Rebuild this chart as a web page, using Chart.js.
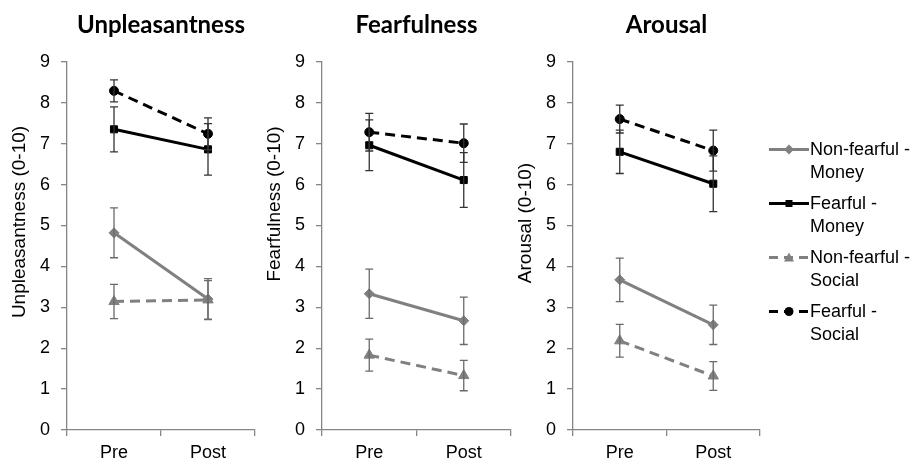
<!DOCTYPE html>
<html>
<head>
<meta charset="utf-8">
<title>Pre / Post ratings</title>
<script src="https://cdn.jsdelivr.net/npm/chart.js@4/dist/chart.umd.min.js"></script>
<style>
  body { margin: 0; background: #fff; }
  #wrap { position: relative; width: 921px; height: 460px; overflow: hidden; }
  #wrap canvas { position: absolute; top: 0; }
  #legend { position: absolute; left: 769px; top: 138px; font-family: "Liberation Sans", Arial, sans-serif; font-size: 18px; color: #000; }
  .lg-item { display: flex; align-items: flex-start; margin-bottom: 8px; }
  .lg-item svg { flex: none; width: 41px; height: 23px; }
  .lg-text { line-height: 23px; }
</style>
</head>
<body>
<div id="wrap">
  <canvas id="c1" width="265" height="460" style="left:0px"></canvas>
  <canvas id="c2" width="266" height="460" style="left:255px"></canvas>
  <canvas id="c3" width="264" height="460" style="left:506px"></canvas>
  <div id="legend"></div>
</div>
<script>
// data
var categories = ['Pre', 'Post'];
var seriesNames = ['Non-fearful - Money', 'Fearful - Money', 'Non-fearful - Social', 'Fearful - Social'];
var panelTitles = ['Unpleasantness', 'Fearfulness', 'Arousal'];
var axisTitles = ['Unpleasantness (0-10)', 'Fearfulness (0-10)', 'Arousal (0-10)'];
var yMin = 0, yMax = 9, yStep = 1;

// Unpleasantness
var unpNonFearMoney = [4.82, 3.20], unpNonFearMoneyErr = [0.61, 0.50];
var unpFearMoney = [7.35, 6.86], unpFearMoneyErr = [0.55, 0.63];
var unpNonFearSocial = [3.14, 3.18], unpNonFearSocialErr = [0.42, 0.47];
var unpFearSocial = [8.29, 7.24], unpFearSocialErr = [0.27, 0.39];

// Fearfulness
var fearNonFearMoney = [3.33, 2.67], fearNonFearMoneyErr = [0.60, 0.58];
var fearFearMoney = [6.96, 6.11], fearFearMoneyErr = [0.62, 0.67];
var fearNonFearSocial = [1.83, 1.33], fearNonFearSocialErr = [0.39, 0.37];
var fearFearSocial = [7.28, 7.01], fearFearSocialErr = [0.46, 0.47];

// Arousal
var arNonFearMoney = [3.67, 2.57], arNonFearMoneyErr = [0.53, 0.48];
var arFearMoney = [6.80, 6.02], arFearMoneyErr = [0.53, 0.68];
var arNonFearSocial = [2.18, 1.32], arNonFearSocialErr = [0.40, 0.35];
var arFearSocial = [7.60, 6.83], arFearSocialErr = [0.34, 0.50];

// look of each series (same order as seriesNames)
var GRAY = '#808080', BLACK = '#000000';
var seriesStyle = [
  { color: GRAY,  err: '#6a6a6a', dash: [],      point: 'rectRot',  radius: 5 },
  { color: BLACK, err: '#333333', dash: [],      point: 'rect',     radius: 5 },
  { color: GRAY,  err: '#6a6a6a', dash: [10, 6], point: 'triangle', radius: 6 },
  { color: BLACK, err: '#333333', dash: [10, 6], point: 'circle',   radius: 4.5 }
];

var panels = [
  { id: 'c1', values: [unpNonFearMoney, unpFearMoney, unpNonFearSocial, unpFearSocial],
    errors: [unpNonFearMoneyErr, unpFearMoneyErr, unpNonFearSocialErr, unpFearSocialErr], titleY: 222 },
  { id: 'c2', values: [fearNonFearMoney, fearFearMoney, fearNonFearSocial, fearFearSocial],
    errors: [fearNonFearMoneyErr, fearFearMoneyErr, fearNonFearSocialErr, fearFearSocialErr], titleY: 204 },
  { id: 'c3', values: [arNonFearMoney, arFearMoney, arNonFearSocial, arFearSocial],
    errors: [arNonFearMoneyErr, arFearMoneyErr, arNonFearSocialErr, arFearSocialErr], titleY: 223 }
];

var FONT = '"Liberation Sans", Arial, sans-serif';
var AXIS_GRAY = '#868686';

// vertical error bars with caps, from the y scale
var errorBars = {
  id: 'errorBars',
  afterDatasetsDraw: function (chart) {
    var ctx = chart.ctx, y = chart.scales.y;
    chart.data.datasets.forEach(function (ds, di) {
      if (!ds.errors) return;
      var meta = chart.getDatasetMeta(di);
      ctx.save();
      ctx.strokeStyle = ds.errorColor;
      ctx.lineWidth = 1.3;
      meta.data.forEach(function (pt, i) {
        var top = y.getPixelForValue(ds.data[i] + ds.errors[i]);
        var bot = y.getPixelForValue(ds.data[i] - ds.errors[i]);
        ctx.beginPath();
        ctx.moveTo(pt.x, top); ctx.lineTo(pt.x, bot);
        ctx.moveTo(pt.x - 4, top); ctx.lineTo(pt.x + 4, top);
        ctx.moveTo(pt.x - 4, bot); ctx.lineTo(pt.x + 4, bot);
        ctx.stroke();
      });
      ctx.restore();
    });
  }
};

// rotated y-axis title, placed a bit above the middle like the original
var sideTitle = {
  id: 'sideTitle',
  afterDraw: function (chart, args, opts) {
    if (!opts.text) return;
    var ctx = chart.ctx;
    ctx.save();
    ctx.translate(chart.chartArea.left - 47, opts.y);
    ctx.rotate(-Math.PI / 2);
    ctx.font = '19px ' + FONT;
    ctx.fillStyle = '#000';
    ctx.textAlign = 'center';
    ctx.textBaseline = 'middle';
    ctx.fillText(opts.text, 0, 0);
    ctx.restore();
  }
};

panels.forEach(function (p, pi) {
  var datasets = seriesNames.map(function (name, si) {
    var s = seriesStyle[si];
    return {
      label: name,
      data: p.values[si],
      errors: p.errors[si],
      errorColor: s.err,
      borderColor: s.color,
      backgroundColor: s.color,
      borderWidth: 3,
      borderDash: s.dash,
      tension: 0,
      pointStyle: s.point,
      pointRadius: s.radius,
      pointBorderWidth: 1,
      pointBackgroundColor: s.color,
      pointBorderColor: s.color
    };
  });

  new Chart(document.getElementById(p.id).getContext('2d'), {
    type: 'line',
    data: { labels: categories, datasets: datasets },
    options: {
      responsive: false,
      animation: false,
      layout: { padding: { left: 0, right: 10, top: 0, bottom: 0 } },
      plugins: {
        legend: { display: false },
        tooltip: { enabled: false },
        title: {
          display: true, text: panelTitles[pi], fullSize: false, color: '#000',
          font: { family: 'Lato, "Open Sans", sans-serif', size: 24, weight: 'bold' },
          padding: { top: 11, bottom: 22 }
        },
        sideTitle: { text: axisTitles[pi], y: p.titleY }
      },
      scales: {
        x: {
          type: 'category', offset: true,
          grid: { offset: true, drawOnChartArea: false, tickLength: 6, color: AXIS_GRAY, lineWidth: 1.3 },
          border: { color: AXIS_GRAY, width: 1.3 },
          ticks: { color: '#000', font: { family: FONT, size: 18 }, padding: 6 },
          afterFit: function (s) { s.height = 30; }
        },
        y: {
          min: yMin, max: yMax,
          grid: { drawOnChartArea: false, tickLength: 6, color: AXIS_GRAY, lineWidth: 1.3 },
          border: { color: AXIS_GRAY, width: 1.3 },
          ticks: { stepSize: yStep, color: '#000', font: { family: FONT, size: 18 }, padding: 11 },
          afterFit: function (s) { s.width = 67; }
        }
      }
    },
    plugins: [errorBars, sideTitle]
  });
});

// legend: line sample + marker, name split over two lines
function markerSvg(s) {
  var c = s.color, cx = 20, cy = 11.5;
  if (s.point === 'rectRot') return '<polygon points="' + (cx - 5) + ',' + cy + ' ' + cx + ',' + (cy - 5) + ' ' + (cx + 5) + ',' + cy + ' ' + cx + ',' + (cy + 5) + '" fill="' + c + '"/>';
  if (s.point === 'rect') return '<rect x="' + (cx - 3.5) + '" y="' + (cy - 3.5) + '" width="7" height="7" fill="' + c + '"/>';
  if (s.point === 'triangle') return '<polygon points="' + (cx - 5) + ',' + (cy + 4) + ' ' + cx + ',' + (cy - 5) + ' ' + (cx + 5) + ',' + (cy + 4) + '" fill="' + c + '"/>';
  return '<circle cx="' + cx + '" cy="' + cy + '" r="4.5" fill="' + c + '"/>';
}

var legend = document.getElementById('legend');
legend.innerHTML = seriesNames.map(function (name, si) {
  var s = seriesStyle[si];
  var dash = s.dash.length ? ' stroke-dasharray="9,6"' : '';
  return '<div class="lg-item">'
    + '<svg viewBox="0 0 41 23"><line x1="0" y1="11.5" x2="40" y2="11.5" stroke="' + s.color + '" stroke-width="3"' + dash + '/>' + markerSvg(s) + '</svg>'
    + '<div class="lg-text">' + name.replace(' - ', ' -<br>') + '</div>'
    + '</div>';
}).join('');
</script>
</body>
</html>
